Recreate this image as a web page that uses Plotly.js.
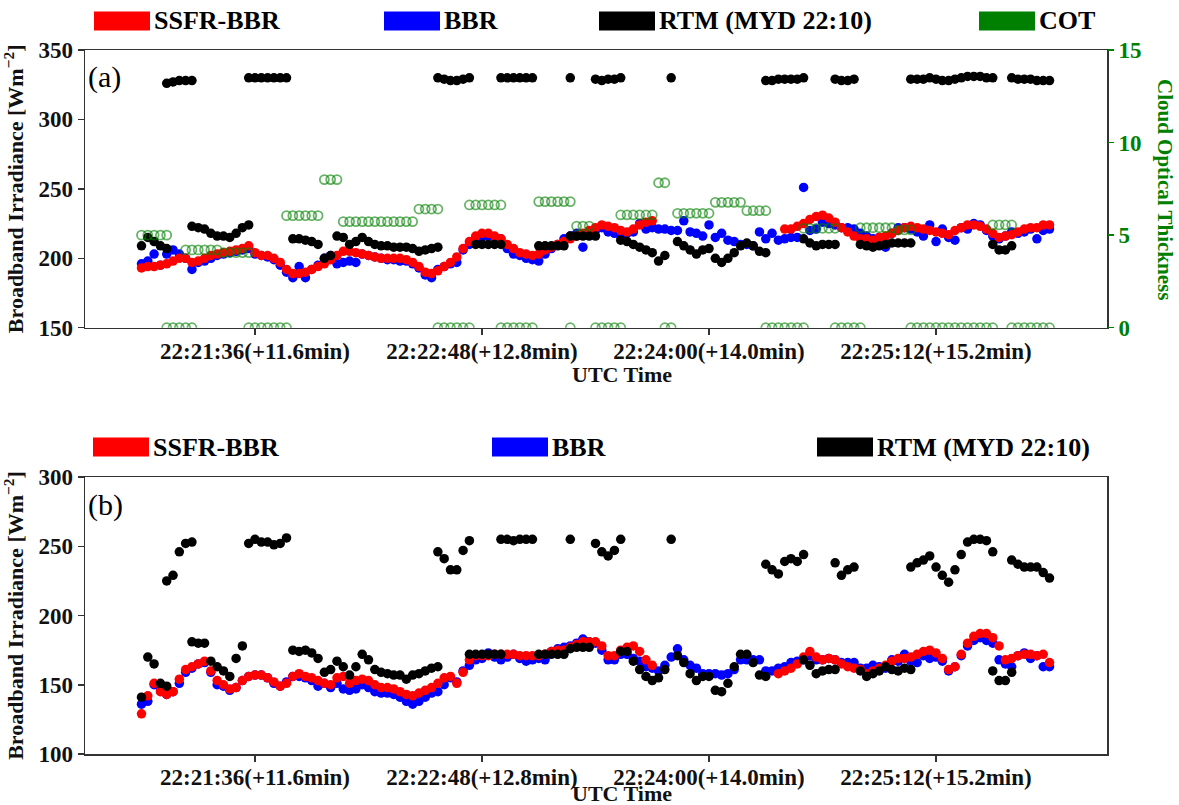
<!DOCTYPE html>
<html><head><meta charset="utf-8">
<script src="https://cdn.plot.ly/plotly-3.0.1.min.js"></script>
<style>html,body{margin:0;padding:0;background:#fff}#chart{width:1179px;height:805px}</style>
</head><body><div id="chart"></div>
<script>
// time grid: seconds after 22:20:00 UTC, one reading every 2 s
const timeStart = 60;
const timeStep = 2;
const tickVals = [96, 168, 240, 312];
const tickLabels = ['22:21:36(+11.6min)', '22:22:48(+12.8min)', '22:24:00(+14.0min)', '22:25:12(+15.2min)'];

// ---------- panel (a) ----------
const ssfrA = [
193,194,194,195,196,198,200,200,197,198,
200,202,203,204,205,206,207,209,204,202,
202,200,197,192,189,189,190,192,194,196,
199,202,205,205,204,203,202,201,200,200,
200,200,199,197,194,190,189,191,194,197,
201,207,212,216,218,218,216,214,210,207,
204,203,202,203,206,208,210,212,214,216,
218,220,222,224,223,222,220,219,221,224,
226,227,null,null,null,null,null,null,null,null,
null,null,null,null,null,null,null,null,null,null,
null,null,221,221,223,225,228,230,231,229,
226,222,219,216,214,214,213,215,216,218,
220,222,223,222,221,220,219,218,217,220,
222,224,224,223,221,218,215,216,217,219,
221,222,222,224,224];
const bbrA = [
196,198,203,195,203,206,203,200,192,197,
198,200,202,203,204,205,206,207,203,202,
201,199,195,190,186,194,186,192,195,200,
202,196,197,198,197,203,202,201,200,199,
199,198,198,196,193,188,186,192,194,196,
197,206,210,214,215,216,215,214,207,203,
202,200,199,198,203,207,210,214,216,218,
208,218,220,222,219,218,216,218,219,225,
221,222,221,221,220,220,227,219,218,216,
224,215,218,213,212,210,210,209,219,214,
218,213,214,215,215,251,220,221,226,225,
224,222,222,221,218,216,214,215,208,218,
222,222,221,219,216,224,212,221,215,213,
222,221,225,224,220,216,214,216,219,218,
219,221,214,220,221];
const rtmClearA = [
null,null,null,null,326,327,328,328,328,null,
null,null,null,null,null,null,null,330,330,330,
330,330,330,330,null,null,null,null,null,null,
null,null,null,null,null,null,null,null,null,null,
null,null,null,null,null,null,null,330,329,328,
328,329,330,null,null,null,null,330,330,330,
330,330,330,null,null,null,null,null,330,null,
null,null,329,328,329,329,330,null,null,null,
null,null,null,null,330,null,null,null,null,null,
null,null,null,null,null,null,null,null,null,328,
328,329,329,329,329,330,null,null,null,null,
329,328,328,329,null,null,null,null,null,null,
null,null,329,329,329,330,329,328,328,329,
330,331,331,331,330,330,null,null,330,329,
329,329,328,328,328];
const rtmCloudA = [
209,215,212,209,207,null,null,null,223,222,
221,218,216,216,215,218,222,224,null,null,
null,null,null,null,214,214,213,212,210,200,
202,216,215,210,212,215,212,210,209,209,
208,208,208,207,205,206,207,208,null,null,
null,null,null,210,210,210,210,210,null,null,
null,null,null,209,209,209,209,209,216,216,
216,216,216,null,null,null,213,212,210,208,
206,204,198,202,null,212,209,206,203,206,
207,200,197,200,204,209,211,209,205,204,
null,null,null,null,null,214,211,209,210,210,
210,null,null,null,210,209,208,209,210,211,
211,211,211,null,null,null,null,null,null,null,
null,null,null,null,null,210,206,206,209,null,
null,null,null,null,null];
const cotCloudA = [
5.0,5.0,5.0,5.0,5.0,null,null,4.2,4.2,4.2,
4.2,4.2,4.2,4.05,4.05,4.05,4.05,4.05,null,null,
null,null,null,6.05,6.05,6.05,6.05,6.05,6.05,8.0,
8.0,8.0,5.73,5.73,5.73,5.73,5.73,5.73,5.73,5.73,
5.73,5.73,5.73,5.73,6.41,6.41,6.41,6.41,null,null,
null,null,6.63,6.63,6.63,6.63,6.63,6.63,null,null,
null,null,null,6.81,6.81,6.81,6.81,6.81,6.81,5.49,
5.49,5.49,null,null,null,null,6.09,6.09,6.09,6.09,
6.09,6.09,7.83,7.83,null,6.18,6.18,6.18,6.18,6.18,
6.18,6.77,6.77,6.77,6.77,6.77,6.32,6.32,6.32,6.32,
null,null,null,null,null,5.37,5.37,5.37,5.37,5.37,
5.37,null,null,null,5.4,5.4,5.4,5.4,5.4,5.4,
5.28,5.28,5.28,null,null,null,null,null,null,null,
null,null,null,null,null,5.55,5.55,5.55,5.55,null,
null,null,null,null,null];
const cotClearA = [
null,null,null,null,0,0,0,0,0,null,
null,null,null,null,null,null,null,0,0,0,
0,0,0,0,null,null,null,null,null,null,
null,null,null,null,null,null,null,null,null,null,
null,null,null,null,null,null,null,0,0,0,
0,0,0,null,null,null,null,0,0,0,
0,0,0,null,null,null,null,null,0,null,
null,null,0,0,0,0,0,null,null,null,
null,null,null,0,0,null,null,null,null,null,
null,null,null,null,null,null,null,null,null,0,
0,0,0,0,0,0,null,null,null,null,
0,0,0,0,0,null,null,null,null,null,
null,null,0,0,0,0,0,0,0,0,
0,0,0,0,0,0,null,null,0,0,
0,0,0,0,0];

// ---------- panel (b) ----------
const ssfrB = [
129,142,151,145,143,145,154,161,163,165,
167,160,153,150,147,148,153,156,157,157,
155,152,149,151,156,158,156,155,153,151,
150,155,156,151,153,154,153,150,148,148,
147,145,143,142,144,146,148,151,155,156,
151,159,168,171,171,171,172,172,172,172,
171,171,171,171,172,174,175,175,177,179,
181,181,181,178,171,171,175,177,178,174,
168,164,null,null,null,null,null,null,null,null,
null,null,null,null,null,null,null,null,null,null,
null,158,160,162,165,170,174,170,168,169,
168,165,163,162,161,158,160,162,164,167,
169,169,170,172,174,175,173,169,161,163,
172,180,185,187,187,184,178,168,169,171,
172,172,171,172,166];
const bbrB = [
136,138,150,147,143,145,151,159,162,165,
166,159,150,149,146,148,153,156,157,157,
155,151,149,152,156,156,155,153,149,151,
148,151,147,146,147,150,148,145,144,144,
143,141,138,136,138,141,144,145,150,155,
152,160,164,168,169,173,170,168,170,172,
169,167,168,169,168,174,176,177,178,180,
183,181,180,175,168,168,172,172,169,167,
163,162,160,164,170,176,168,164,162,158,
158,158,157,158,161,168,168,168,168,160,
160,162,163,166,167,168,171,168,168,169,
168,166,166,166,162,162,164,163,162,168,
167,172,167,166,171,169,170,167,160,163,
171,178,182,184,182,180,168,165,163,171,
173,169,171,163,163];
const rtmClearB = [
null,null,null,null,225,229,246,252,253,null,
null,null,null,null,null,null,null,252,255,253,
253,251,252,256,null,null,null,null,null,null,
null,null,null,null,null,null,null,null,null,null,
null,null,null,null,null,null,null,246,241,233,
233,247,254,null,null,null,null,255,255,254,
255,255,255,null,null,null,null,null,255,null,
null,null,252,246,243,247,255,null,null,null,
null,null,null,null,255,null,null,null,null,null,
null,null,null,null,null,null,null,null,null,237,
233,230,239,241,239,244,null,null,null,null,
238,229,233,235,null,null,null,null,null,null,
null,null,235,238,240,243,235,229,224,233,
244,253,255,255,254,246,null,null,240,237,
235,235,235,231,227];
const rtmCloudB = [
141,170,165,151,149,null,null,null,181,180,
180,167,163,160,156,169,178,null,null,null,
null,null,null,null,175,174,175,173,169,159,
161,167,163,157,163,172,168,161,159,158,
157,157,154,157,158,160,162,163,null,null,
null,null,172,172,172,172,172,172,null,null,
null,null,null,172,172,172,172,172,176,177,
177,177,null,null,null,null,174,174,167,161,
156,153,155,161,null,171,166,158,153,156,
156,146,145,151,163,172,172,166,157,156,
null,null,null,null,null,168,164,158,160,161,
161,null,null,null,160,156,158,160,163,161,
160,162,161,null,null,null,null,null,null,null,
null,null,null,null,null,160,153,153,159,null,
null,null,null,null,null];

const legendNamesA = ['SSFR-BBR', 'BBR', 'RTM (MYD 22:10)', 'COT'];
const legendNamesB = ['SSFR-BBR', 'BBR', 'RTM (MYD 22:10)'];

// ---------- drawing ----------
const times = ssfrA.map((_, i) => timeStart + timeStep * i);
const FONT = 'Liberation Serif, Times New Roman, serif';
const RED = '#ff0000', BLUE = '#0000ff', BLACK = '#000000', GREEN = '#008000';
const W = 1179, H = 805, M = {l: 85, r: 72, t: 50, b: 51};
const PW = W - M.l - M.r, PH = H - M.t - M.b;
const px = x => (x - M.l) / PW;
const py = y => (H - M.b - y) / PH;
const both = (a, b) => a.concat(b);

function dots(y, color, xa, ya) {
  const xs = y.length > times.length ? both(times, times) : times;
  return {type: 'scatter', mode: 'markers', x: xs, y: y, xaxis: xa, yaxis: ya,
    showlegend: false, hoverinfo: 'skip', marker: {size: 9.5, color: color, line: {width: 0}}};
}

const traces = [
  dots(bbrA, BLUE, 'x', 'y'),
  dots(ssfrA, RED, 'x', 'y'),
  dots(both(rtmClearA, rtmCloudA), BLACK, 'x', 'y'),
  {type: 'scatter', mode: 'markers', x: both(times, times), y: both(cotCloudA, cotClearA),
   xaxis: 'x', yaxis: 'y2', showlegend: false, hoverinfo: 'skip',
   marker: {symbol: 'circle-open', size: 9, color: 'rgba(0,128,0,0.6)', line: {width: 1.8, color: 'rgba(0,128,0,0.6)'}}},
  dots(bbrB, BLUE, 'x2', 'y3'),
  dots(ssfrB, RED, 'x2', 'y3'),
  dots(both(rtmClearB, rtmCloudB), BLACK, 'x2', 'y3')
];

const tickFont = {family: FONT, size: 23, color: '#111', weight: 'bold'};
const frame = {showline: true, linecolor: '#333', linewidth: 1.5, mirror: true,
  ticks: 'outside', ticklen: 6, tickwidth: 1.5, tickcolor: '#333',
  showgrid: false, zeroline: false, tickfont: tickFont};
const xCommon = Object.assign({}, frame, {range: [42.08, 366.23], tickmode: 'array',
  tickvals: tickVals, ticktext: tickLabels, ticklabelstandoff: -4});
const yTitle = {text: '<b>Broadband Irradiance [Wm<sup>−2</sup>]</b>',
  font: {family: FONT, size: 22, color: '#111'}, standoff: 8};

const shapes = [], annotations = [];
function legendItem(x0, yc, name, color) {
  shapes.push({type: 'rect', xref: 'paper', yref: 'paper', x0: px(x0), x1: px(x0 + 56),
    y0: py(yc + 9.5), y1: py(yc - 9.5), fillcolor: color, line: {width: 0}});
  annotations.push({xref: 'paper', yref: 'paper', x: px(x0 + 58), y: py(yc), xanchor: 'left',
    yanchor: 'middle', showarrow: false, text: '<b>' + name + '</b>',
    font: {family: FONT, size: 26, color: '#000'}});
}
[[94, RED], [384, BLUE], [599, BLACK], [979, GREEN]].forEach((p, i) => legendItem(p[0], 21, legendNamesA[i], p[1]));
[[93, RED], [492, BLUE], [817, BLACK]].forEach((p, i) => legendItem(p[0], 447, legendNamesB[i], p[1]));

annotations.push(
  {xref: 'paper', yref: 'paper', x: px(86), y: py(77), xanchor: 'left', yanchor: 'middle', showarrow: false,
   text: '(a)', font: {family: FONT, size: 30, color: '#000'}},
  {xref: 'paper', yref: 'paper', x: px(86), y: py(505), xanchor: 'left', yanchor: 'middle', showarrow: false,
   text: '(b)', font: {family: FONT, size: 30, color: '#000'}},
  {xref: 'paper', yref: 'paper', x: px(622), y: py(374), xanchor: 'center', yanchor: 'middle', showarrow: false,
   text: '<b>UTC Time</b>', font: {family: FONT, size: 22, color: '#111'}},
  {xref: 'paper', yref: 'paper', x: px(622), y: py(793), xanchor: 'center', yanchor: 'middle', showarrow: false,
   text: '<b>UTC Time</b>', font: {family: FONT, size: 22, color: '#111'}},
  {xref: 'paper', yref: 'paper', x: px(1165), y: py(189), xanchor: 'center', yanchor: 'middle', showarrow: false,
   textangle: 90, text: '<b>Cloud Optical Thickness</b>', font: {family: FONT, size: 21, color: GREEN}}
);

const layout = {
  width: W, height: H, margin: M, paper_bgcolor: '#fff', plot_bgcolor: '#fff', showlegend: false,
  xaxis: Object.assign({}, xCommon, {domain: [0, 1], anchor: 'y'}),
  yaxis: Object.assign({}, frame, {domain: [py(327.7), 1], anchor: 'x', range: [150, 350], dtick: 50, tick0: 150, title: yTitle}),
  yaxis2: {overlaying: 'y', side: 'right', anchor: 'x', range: [0, 15], tickmode: 'array', tickvals: [0, 5, 10, 15],
    ticks: 'outside', ticklen: 6, tickwidth: 1.5, tickcolor: GREEN, showline: false, showgrid: false, zeroline: false,
    tickfont: {family: FONT, size: 23, color: GREEN, weight: 'bold'}},
  xaxis2: Object.assign({}, xCommon, {domain: [0, 1], anchor: 'y3'}),
  yaxis3: Object.assign({}, frame, {domain: [0, py(477)], anchor: 'x2', range: [100, 300], dtick: 50, tick0: 100, title: yTitle}),
  shapes: shapes, annotations: annotations
};

Plotly.newPlot('chart', traces, layout, {displayModeBar: false, staticPlot: true});
</script>
</body></html>
